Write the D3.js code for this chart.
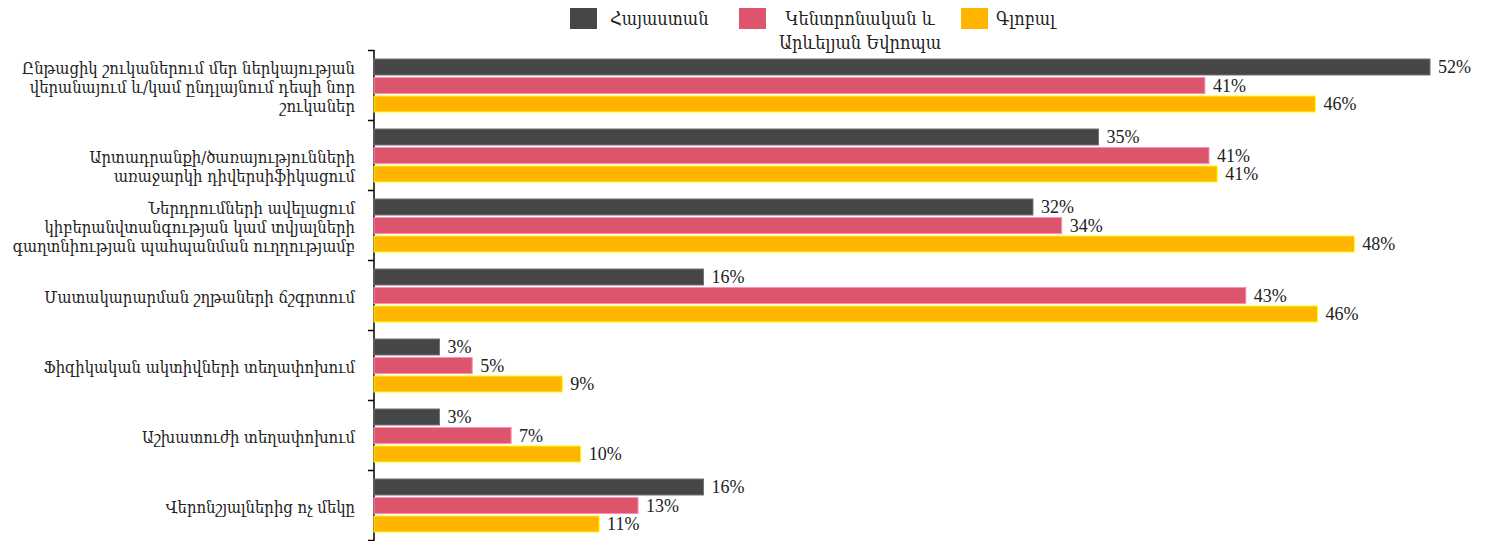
<!DOCTYPE html>
<html>
<head>
<meta charset="utf-8">
<script src="https://cdn.jsdelivr.net/npm/d3@7/dist/d3.min.js"></script>
<style>
  body { margin: 0; background: #fff; }
  text { font-family: "DejaVu Serif Condensed", "DejaVu Serif", serif; fill: #222; }
  text.val { font-family: "Liberation Serif", "DejaVu Serif", serif; }
</style>
</head>
<body>
<svg id="chart" width="1485" height="541"></svg>
<script>
// Category labels, already wrapped the way the original shows them
const categories = [
  ["Ընթացիկ շուկաներում մեր ներկայության", "վերանայում և/կամ ընդլայնում դեպի նոր", "շուկաներ"],
  ["", "Արտադրանքի/ծառայությունների", "առաջարկի դիվերսիֆիկացում"],
  ["Ներդրումների ավելացում", "կիբերանվտանգության կամ տվյալների", "գաղտնիության պահպանման ուղղությամբ"],
  ["Մատակարարման շղթաների ճշգրտում"],
  ["Ֆիզիկական ակտիվների տեղափոխում"],
  ["Աշխատուժի տեղափոխում"],
  ["Վերոնշյալներից ոչ մեկը"]
];

const seriesNames = ["Հայաստան", "Կենտրոնական և Արևելյան Եվրոպա", "Գլոբալ"];
const seriesColors = ["#464646", "#dc556c", "#ffb400"];

// values in %
const armenia = [51.6, 35.4, 32.2, 16.1, 3.2, 3.2, 16.1];
const cee     = [40.6, 40.8, 33.6, 42.6, 4.8, 6.7, 12.9];
const global  = [46.0, 41.2, 47.9, 46.1, 9.2, 10.1, 11.0];
const seriesValues = [armenia, cee, global];

const svg = d3.select("#chart");

const x = d3.scaleLinear().domain([0, 51.6]).range([374, 1430]);
const yBand = d3.scaleBand().domain(d3.range(categories.length)).range([50, 540]);
const yInner = d3.scaleBand().domain(d3.range(seriesNames.length)).range([9, 62]).paddingInner(0.135);

// left axis: line with ticks on category boundaries
const yEdges = d3.scaleLinear().domain([0, categories.length]).range([50, 540]);
svg.append("g")
  .attr("transform", "translate(374,0)")
  .call(d3.axisLeft(yEdges).tickValues(d3.range(categories.length + 1)).tickSize(6).tickSizeOuter(0).tickFormat(""))
  .call(g => g.selectAll("line, path").attr("stroke", "#000").attr("stroke-width", 1.5));

svg.select("g .domain").attr("d", "M0,50V541");

// bars
const groups = svg.append("g").selectAll("g")
  .data(categories)
  .join("g")
  .attr("transform", (d, i) => `translate(0,${yBand(i)})`);

groups.each(function (cat, ci) {
  const g = d3.select(this);
  seriesValues.forEach((vals, si) => {
    const v = vals[ci];
    g.append("rect")
      .attr("x", x(0))
      .attr("y", yInner(si))
      .attr("width", x(v) - x(0))
      .attr("height", yInner.bandwidth())
      .attr("fill", seriesColors[si])
      .attr("stroke", d3.color(seriesColors[si]).brighter(1.4))
      .attr("stroke-width", 1);
    g.append("text")
      .attr("class", "val")
      .attr("x", x(v) + 8)
      .attr("y", yInner(si) + yInner.bandwidth() / 2)
      .attr("dy", "0.35em")
      .attr("font-size", 18)
      .text(Math.round(v) + "%");
  });
});

// category labels
const lineH = 19;
svg.append("g").selectAll("text")
  .data(categories)
  .join("text")
  .attr("text-anchor", "end")
  .attr("font-size", 16.5)
  .each(function (lines, i) {
    const t = d3.select(this);
    const cy = yBand(i) + yBand.bandwidth() / 2 + 2;
    const y0 = cy - (lines.length - 1) * lineH / 2;
    lines.forEach((ln, k) => {
      t.append("tspan")
        .attr("x", 355)
        .attr("y", y0 + k * lineH)
        .attr("dy", "0.35em")
        .text(ln);
    });
  });

// legend
const legendItems = [
  { sx: 570, tx: 610, lines: ["Հայաստան"], anchor: "start" },
  { sx: 739, tx: 860, lines: ["Կենտրոնական և", "Արևելյան Եվրոպա"], anchor: "middle" },
  { sx: 961, tx: 996, lines: ["Գլոբալ"], anchor: "start" }
];
const legend = svg.append("g");
legendItems.forEach((it, i) => {
  legend.append("rect")
    .attr("x", it.sx).attr("y", 8).attr("width", 27).attr("height", 21)
    .attr("fill", seriesColors[i]);
  const t = legend.append("text")
    .attr("text-anchor", it.anchor)
    .attr("font-size", 18);
  it.lines.forEach((ln, k) => {
    t.append("tspan").attr("x", it.tx).attr("y", 19 + k * 24).attr("dy", "0.35em").text(ln);
  });
});
</script>
</body>
</html>
